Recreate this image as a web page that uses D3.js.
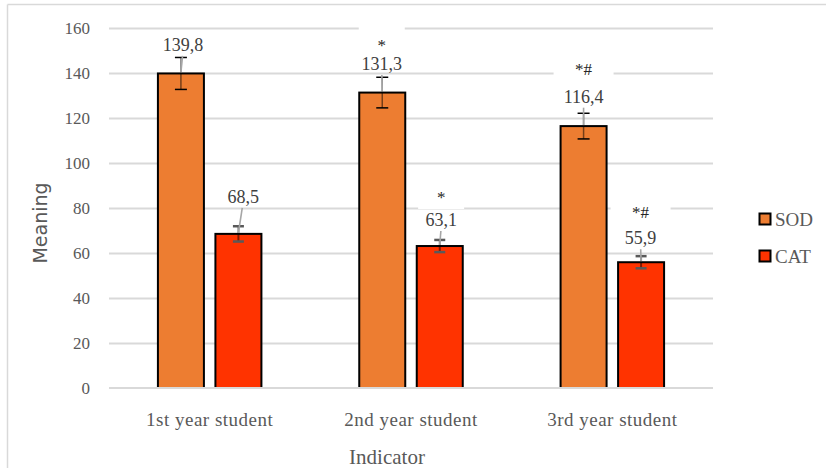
<!DOCTYPE html>
<html>
<head>
<meta charset="utf-8">
<script src="https://cdn.jsdelivr.net/npm/d3@7"></script>
<style>
  html, body { margin: 0; padding: 0; background: #fff; }
  svg { display: block; }
</style>
</head>
<body>
<svg id="chart" width="826" height="468"></svg>
<script>
// Enzyme activity by year of study
const categories = ["1st year student", "2nd year student", "3rd year student"];
const seriesNames = ["SOD", "CAT"];
const sodValues = [139.8, 131.3, 116.4];
const catValues = [68.5, 63.1, 55.9];
const sodErrors = [7.1, 6.8, 5.7];
const catErrors = [3.4, 2.7, 2.7];
const sodMarks = ["", "*", "*#"];
const catMarks = ["", "*", "*#"];
const yTicks = [0, 20, 40, 60, 80, 100, 120, 140, 160];
const yLabel = "Meaning";
const xLabel = "Indicator";

// Styling
const colors = { SOD: "#ED7D31", CAT: "#FF3300" };
const textGray = "#595959";
const labelGray = "#404040";
const gridGray = "#d9d9d9";
const serif = "'Liberation Serif', 'Times New Roman', serif";

// Label placement relative to the top centre of each bar (pixels)
const labelLayout = {
  SOD: [{ dx: 2, dy: -28.5 }, { dx: -0.5, dy: -28.6, sy: -47 }, { dx: 0, dy: -29.4, sy: -57 }],
  CAT: [{ dx: 4.8, dy: -37 }, { dx: 1.4, dy: -26, sy: -49 }, { dx: -0.5, dy: -24, sy: -50.2 }]
};

const rows = categories.map((c, i) => ({
  category: c,
  items: [
    { series: "SOD", value: sodValues[i], err: sodErrors[i], mark: sodMarks[i], lay: labelLayout.SOD[i] },
    { series: "CAT", value: catValues[i], err: catErrors[i], mark: catMarks[i], lay: labelLayout.CAT[i] }
  ]
}));

const svg = d3.select("#chart");
const plot = { left: 109, right: 713, top: 28, bottom: 388 };

const y = d3.scaleLinear().domain([0, 160]).range([plot.bottom, plot.top]);
const x0 = d3.scaleBand().domain(categories).range([plot.left, plot.right]).padding(0);
const groupW = 103.5;
const x1 = d3.scaleBand().domain(seriesNames)
  .range([(x0.bandwidth() - groupW) / 2, (x0.bandwidth() + groupW) / 2])
  .paddingInner(0.2).paddingOuter(0);

const fmt = d3.formatLocale({ decimal: ",", thousands: " ", grouping: [3], currency: ["", ""] }).format(".1f");

// Outer frame
svg.append("line").attr("x1", 7.5).attr("x2", 826).attr("y1", 4.5).attr("y2", 4.5)
  .attr("stroke", gridGray).attr("stroke-width", 1.5);
svg.append("line").attr("x1", 7.5).attr("x2", 7.5).attr("y1", 4.5).attr("y2", 468)
  .attr("stroke", gridGray).attr("stroke-width", 1.5);

// Gridlines
const grid = svg.append("g").attr("transform", `translate(${plot.left},0)`)
  .call(d3.axisLeft(y).tickValues(yTicks.filter(t => t > 0)).tickSize(-(plot.right - plot.left)).tickFormat(""));
grid.select(".domain").remove();
grid.selectAll(".tick line").attr("stroke", gridGray).attr("stroke-width", 2);

// Y axis labels
const yAxis = svg.append("g").attr("transform", `translate(${plot.left},0)`)
  .call(d3.axisLeft(y).tickValues(yTicks).tickSize(0).tickPadding(19));
yAxis.select(".domain").remove();
yAxis.selectAll("text").attr("fill", textGray).style("font-family", serif).style("font-size", "17px");

// White boxes behind significance marks
const groups = svg.append("g").selectAll("g.grp").data(rows).join("g")
  .attr("class", "grp").attr("transform", d => `translate(${x0(d.category)},0)`);

const boxW = { "*": 46, "*#": 60 };
groups.selectAll("rect.markbg").data(d => d.items.filter(it => it.mark)).join("rect")
  .attr("class", "markbg")
  .attr("x", d => x1(d.series) + x1.bandwidth() / 2 + d.lay.dx - boxW[d.mark] / 2)
  .attr("y", d => y(d.value) + d.lay.sy - 20)
  .attr("width", d => boxW[d.mark])
  .attr("height", 32)
  .attr("fill", "#fff");

// Bars
groups.selectAll("rect.bar").data(d => d.items).join("rect")
  .attr("class", "bar")
  .attr("x", d => x1(d.series))
  .attr("y", d => y(d.value))
  .attr("width", x1.bandwidth())
  .attr("height", d => y(0) - y(d.value))
  .attr("fill", d => colors[d.series])
  .attr("stroke", "#000").attr("stroke-width", 2);

// Baseline
svg.append("line").attr("x1", plot.left).attr("x2", plot.right)
  .attr("y1", y(0)).attr("y2", y(0)).attr("stroke", gridGray).attr("stroke-width", 2);

// Error bars
const eb = groups.selectAll("g.err").data(d => d.items).join("g").attr("class", "err")
  .attr("transform", d => `translate(${x1(d.series) + x1.bandwidth() / 2},0)`);
eb.append("line").attr("x1", 0).attr("x2", 0)
  .attr("y1", d => y(d.value + d.err)).attr("y2", d => y(d.value - d.err))
  .attr("stroke", "rgba(0,0,0,0.5)").attr("stroke-width", d => d.series === "SOD" ? 1.5 : 2);
eb.selectAll("line.cap").data(d => [
  { s: d.series, v: d.value + d.err }, { s: d.series, v: d.value - d.err }]).join("line")
  .attr("class", "cap")
  .attr("x1", d => d.s === "SOD" ? -6 : -5.5).attr("x2", d => d.s === "SOD" ? 6 : 5.5)
  .attr("y1", d => y(d.v)).attr("y2", d => y(d.v))
  .attr("stroke", d => d.s === "SOD" ? "#000" : "#595959")
  .attr("stroke-width", d => d.s === "SOD" ? 1.5 : 2.5);

// Leader lines from value labels to bar tops
groups.selectAll("line.leader").data(d => d.items).join("line")
  .attr("class", "leader")
  .attr("x1", d => x1(d.series) + x1.bandwidth() / 2 + d.lay.dx * 0.8)
  .attr("y1", d => y(d.value) + d.lay.dy + 11)
  .attr("x2", d => x1(d.series) + x1.bandwidth() / 2)
  .attr("y2", d => y(d.value) - 1)
  .attr("stroke", "#a6a6a6").attr("stroke-width", 1.6);

// Value labels
groups.selectAll("text.val").data(d => d.items).join("text")
  .attr("class", "val")
  .attr("x", d => x1(d.series) + x1.bandwidth() / 2 + d.lay.dx)
  .attr("y", d => y(d.value) + d.lay.dy)
  .attr("text-anchor", "middle").attr("dominant-baseline", "central")
  .attr("fill", labelGray).style("font-family", serif).style("font-size", "18px")
  .text(d => fmt(d.value));

// Significance marks
groups.selectAll("text.mark").data(d => d.items.filter(it => it.mark)).join("text")
  .attr("class", "mark")
  .attr("x", d => x1(d.series) + x1.bandwidth() / 2 + d.lay.dx)
  .attr("y", d => y(d.value) + d.lay.sy)
  .attr("text-anchor", "middle").attr("dominant-baseline", "central")
  .attr("fill", "#262626").style("font-family", serif).style("font-size", "17px")
  .text(d => d.mark);

// X axis labels
const xAxis = svg.append("g").attr("transform", `translate(0,${plot.bottom})`)
  .call(d3.axisBottom(x0).tickSize(0).tickPadding(25));
xAxis.select(".domain").remove();
xAxis.selectAll("text").attr("fill", textGray).style("font-family", serif)
  .style("font-size", "19px").style("letter-spacing", "0.5px");

// Axis titles
svg.append("text").attr("transform", "translate(40,223) rotate(-90)")
  .attr("text-anchor", "middle").attr("dominant-baseline", "central")
  .attr("fill", textGray).style("font-family", "'DejaVu Sans', sans-serif").style("font-size", "19px")
  .text(yLabel);
svg.append("text").attr("x", 387).attr("y", 464)
  .attr("text-anchor", "middle")
  .attr("fill", textGray).style("font-family", serif).style("font-size", "21px")
  .text(xLabel);

// Legend
const legend = svg.append("g").selectAll("g").data(seriesNames).join("g")
  .attr("transform", (d, i) => `translate(759.5,${219 + i * 37})`);
legend.append("rect").attr("x", 0).attr("y", -5.5).attr("width", 11).attr("height", 11)
  .attr("fill", d => colors[d]).attr("stroke", "#000").attr("stroke-width", 2);
legend.append("text").attr("x", 15.5).attr("y", 0).attr("dominant-baseline", "central")
  .attr("fill", textGray).style("font-family", serif).style("font-size", "19px")
  .text(d => d);
</script>
</body>
</html>
